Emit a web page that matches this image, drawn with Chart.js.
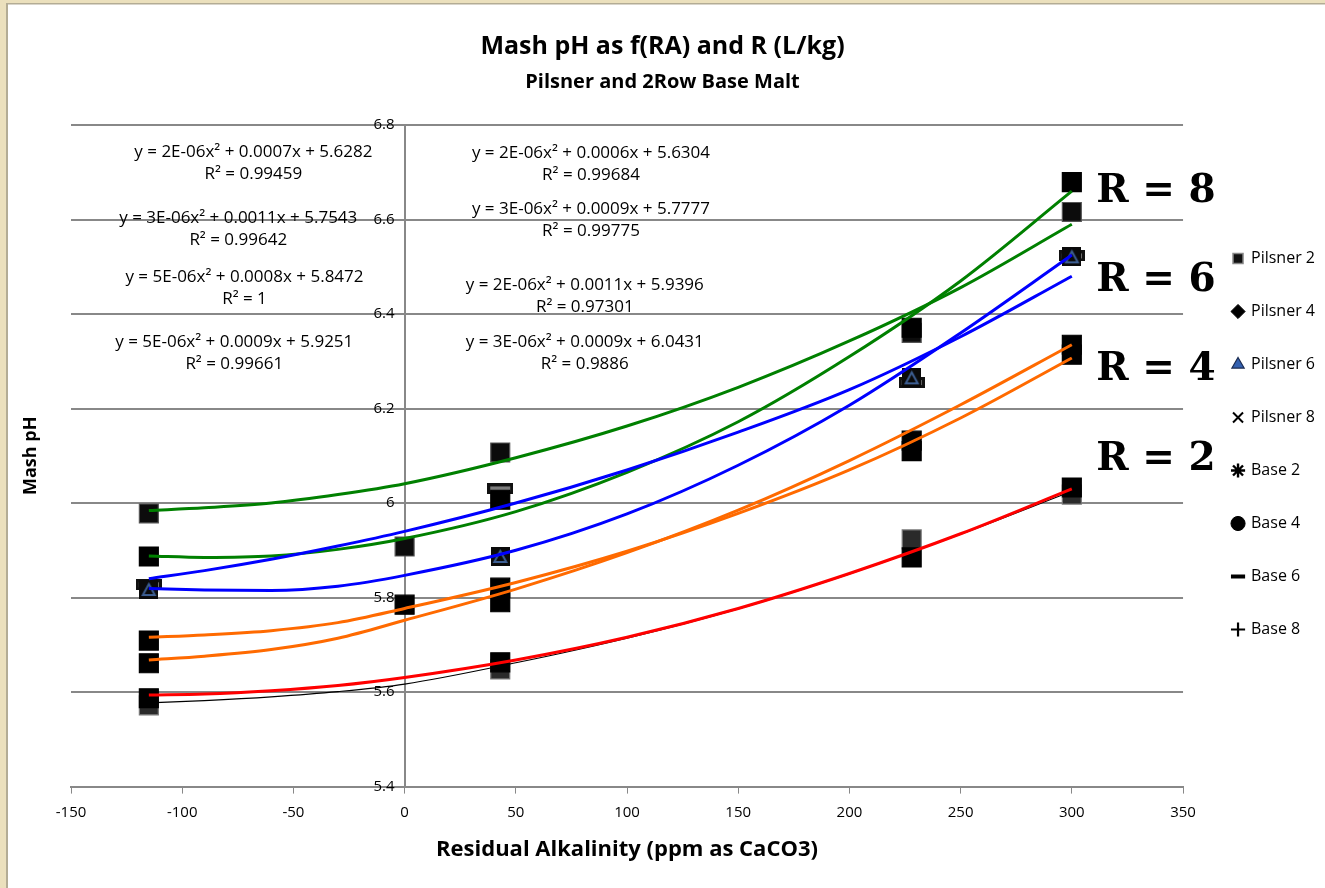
<!DOCTYPE html>
<html>
<head>
<meta charset="utf-8">
<script src="https://cdn.jsdelivr.net/npm/chart.js@4.4.1/dist/chart.umd.min.js"></script>
<style>
html,body{margin:0;padding:0;background:#fff;}
#wrap{width:1325px;height:888px;position:relative;}
canvas{display:block;}
</style>
</head>
<body>
<div id="wrap"><canvas id="c" width="1325" height="888"></canvas></div>
<script>
// ---------- data ----------
const raX = [-115, 0, 43, 228, 300];
const pilsner2 = [5.587, null, 5.663, 5.885, 6.033];
const pilsner4 = [5.709, null, 5.821, 6.132, 6.335];
const pilsner6 = [5.817, null, 5.887, 6.265, 6.521];
const pilsner8 = [5.887, null, 6.007, 6.371, 6.679];
const base2 = [5.572, null, 5.648, 5.923, 6.018];
const base4 = [5.661, 5.785, 5.790, 6.110, 6.314];
const base6 = [5.827, null, 6.030, 6.255, 6.523];
const base8 = [5.978, 5.908, 6.107, 6.360, 6.616];

const trendX = [-115, -90, -60, -30, 0, 50, 100, 150, 200, 250, 300];
const trendRed = [5.594, 5.596, 5.603, 5.614, 5.631, 5.668, 5.716, 5.777, 5.851, 5.935, 6.030];
const trendBlack = [5.577, 5.582, 5.590, 5.601, 5.617, 5.662, 5.714, 5.776, 5.850, 5.934, 6.025];
const trendOrangeA = [5.716, 5.721, 5.730, 5.747, 5.777, 5.832, 5.898, 5.978, 6.070, 6.180, 6.307];
const trendOrangeB = [5.668, 5.676, 5.690, 5.714, 5.752, 5.818, 5.895, 5.985, 6.090, 6.208, 6.335];
const trendBlueA = [5.819, 5.816, 5.815, 5.824, 5.847, 5.900, 5.977, 6.080, 6.207, 6.360, 6.525];
const trendBlueB = [5.840, 5.857, 5.881, 5.909, 5.940, 6.000, 6.070, 6.150, 6.240, 6.352, 6.480];
const trendGreenA = [5.888, 5.885, 5.888, 5.902, 5.925, 5.982, 6.065, 6.172, 6.310, 6.470, 6.660];
const trendGreenB = [5.984, 5.990, 6.000, 6.018, 6.041, 6.096, 6.163, 6.245, 6.343, 6.456, 6.590];

const seriesNames = ['Pilsner 2', 'Pilsner 4', 'Pilsner 6', 'Pilsner 8', 'Base 2', 'Base 4', 'Base 6', 'Base 8'];
const yTickLabels = ['5.4', '5.6', '5.8', '6', '6.2', '6.4', '6.6', '6.8'];
const xTickLabels = ['-150', '-100', '-50', '0', '50', '100', '150', '200', '250', '300', '350'];

const eqLeft = [
  ['y = 2E-06x² + 0.0007x + 5.6282', 'R² = 0.99459'],
  ['y = 3E-06x² + 0.0011x + 5.7543', 'R² = 0.99642'],
  ['y = 5E-06x² + 0.0008x + 5.8472', 'R² = 1'],
  ['y = 5E-06x² + 0.0009x + 5.9251', 'R² = 0.99661']
];
const eqRight = [
  ['y = 2E-06x² + 0.0006x + 5.6304', 'R² = 0.99684'],
  ['y = 3E-06x² + 0.0009x + 5.7777', 'R² = 0.99775'],
  ['y = 2E-06x² + 0.0011x + 5.9396', 'R² = 0.97301'],
  ['y = 3E-06x² + 0.0009x + 6.0431', 'R² = 0.9886']
];
const rLabels = ['R = 8', 'R = 6', 'R = 4', 'R = 2'];

// ---------- layout (annotation anchors in data units) ----------
const eqLeftPos = [[-68, 6.743], [-74.8, 6.602], [-72, 6.477], [-76.6, 6.341]];
const eqRightPos = [[83.8, 6.741], [83.8, 6.621], [81, 6.462], [81, 6.341]];
const rLabelPos = [[311, 6.658], [311, 6.470], [311, 6.282], [311, 6.092]];

function pts(xs, ys) {
  const out = [];
  xs.forEach((xv, i) => { if (ys[i] !== null) out.push({x: xv, y: ys[i]}); });
  return out;
}

function dashMarker() {
  const c = document.createElement('canvas'); c.width = 26; c.height = 11;
  const g = c.getContext('2d');
  g.fillStyle = '#111'; g.fillRect(0, 0, 26, 11);
  g.fillStyle = '#7c7c7c'; g.fillRect(3, 3, 20, 5);
  return c;
}
function triSquareMarker() {
  const c = document.createElement('canvas'); c.width = 19; c.height = 19;
  const g = c.getContext('2d');
  g.fillStyle = '#0a0a0a'; g.fillRect(0, 0, 19, 19);
  g.strokeStyle = '#3d5f93'; g.lineWidth = 2;
  g.beginPath(); g.moveTo(9.5, 4); g.lineTo(15.5, 15); g.lineTo(3.5, 15); g.closePath(); g.stroke();
  return c;
}

const markerSets = [
  {data: pilsner2, style: 'rect', bg: '#000', bd: '#000'},
  {data: pilsner4, style: 'rect', bg: '#000', bd: '#000'},
  {data: pilsner6, style: triSquareMarker(), bg: '#000', bd: '#000'},
  {data: pilsner8, style: 'rect', bg: '#000', bd: '#000'},
  {data: base2, style: 'rect', bg: '#2a2a2a', bd: '#777'},
  {data: base4, style: 'rect', bg: '#000', bd: '#000'},
  {data: base6, style: dashMarker(), bg: '#000', bd: '#000'},
  {data: base8, style: 'rect', bg: '#0c0c0c', bd: '#555'}
];

const trendSets = [
  {data: trendRed, color: '#ff0000', w: 3},
  {data: trendBlack, color: '#000000', w: 1.2},
  {data: trendOrangeA, color: '#ff6a00', w: 3},
  {data: trendOrangeB, color: '#ff6a00', w: 3},
  {data: trendBlueA, color: '#0000ff', w: 3},
  {data: trendBlueB, color: '#0000ff', w: 3},
  {data: trendGreenA, color: '#008000', w: 3},
  {data: trendGreenB, color: '#008000', w: 3}
];

const legendStyles = [
  {ps: 'rect', fill: '#111', stroke: '#888', lw: 1.5},
  {ps: 'rectRot', fill: '#000', stroke: '#000', lw: 1},
  {ps: 'triangle', fill: '#3461b0', stroke: '#1a2a50', lw: 1.2},
  {ps: 'crossRot', fill: '#000', stroke: '#000', lw: 2},
  {ps: 'star', fill: '#000', stroke: '#000', lw: 2.4},
  {ps: 'circle', fill: '#000', stroke: '#000', lw: 1},
  {ps: 'line', fill: '#000', stroke: '#000', lw: 4},
  {ps: 'cross', fill: '#000', stroke: '#000', lw: 2.2}
];

const datasets = [];
markerSets.forEach((m, i) => {
  datasets.push({
    label: seriesNames[i],
    data: pts(raX, m.data),
    showLine: false,
    pointStyle: m.style,
    pointRadius: 13.4,
    pointHoverRadius: 13.4,
    backgroundColor: m.bg,
    borderColor: m.bd,
    borderWidth: 1.2,
    order: 2
  });
});
trendSets.forEach((t, i) => {
  datasets.push({
    label: 'trend' + i,
    data: pts(trendX, t.data),
    showLine: true,
    borderColor: t.color,
    borderWidth: t.w,
    pointRadius: 0,
    cubicInterpolationMode: 'monotone',
    fill: false,
    order: 1
  });
});

const extras = {
  id: 'extras',
  beforeDraw(chart) {
    const {ctx, width, height} = chart;
    ctx.save();
    ctx.fillStyle = '#ffffff'; ctx.fillRect(0, 0, width, height);
    ctx.fillStyle = '#ebe0bd'; ctx.fillRect(0, 0, 7, height); ctx.fillRect(0, 0, width, 3);
    ctx.fillStyle = '#b3ac95'; ctx.fillRect(6, 3, 2, height - 3); ctx.fillRect(6, 3, width - 6, 1.5);
    ctx.restore();
  },
  afterDraw(chart) {
    const {ctx} = chart;
    const x = chart.scales.x, y = chart.scales.y;
    ctx.save();
    ctx.fillStyle = '#000';
    ctx.font = '17px "Open Sans"';
    ctx.textAlign = 'center';
    ctx.textBaseline = 'middle';
    const drawEq = (arr, pos) => arr.forEach((lines, i) => {
      const px = x.getPixelForValue(pos[i][0]);
      const py = y.getPixelForValue(pos[i][1]);
      ctx.fillText(lines[0], px, py);
      ctx.fillText(lines[1], px, py + 22);
    });
    drawEq(eqLeft, eqLeftPos);
    drawEq(eqRight, eqRightPos);
    ctx.font = 'bold 39px "DejaVu Serif"';
    ctx.textAlign = 'left';
    rLabels.forEach((t, i) => {
      ctx.fillText(t, x.getPixelForValue(rLabelPos[i][0]), y.getPixelForValue(rLabelPos[i][1]));
    });
    ctx.restore();
  }
};

new Chart(document.getElementById('c'), {
  type: 'scatter',
  data: {datasets},
  plugins: [extras],
  options: {
    responsive: false,
    animation: false,
    devicePixelRatio: 1,
    layout: {padding: {left: 0, right: 0, top: 0, bottom: 0}},
    plugins: {
      title: {
        display: true, text: 'Mash pH as f(RA) and R (L/kg)', color: '#000',
        font: {family: 'Open Sans', size: 25, weight: 'bold'}, padding: {top: 32, bottom: 8}
      },
      subtitle: {
        display: true, text: 'Pilsner and 2Row Base Malt', color: '#000',
        font: {family: 'Open Sans', size: 20, weight: 'bold'}, padding: {top: 0, bottom: 31}
      },
      legend: {
        display: true, position: 'right', align: 'center',
        labels: {
          usePointStyle: true, boxWidth: 10, boxHeight: 10, padding: 37, color: '#000',
          font: {family: 'Open Sans', size: 16},
          generateLabels() {
            return seriesNames.map((n, i) => ({
              text: n, pointStyle: legendStyles[i].ps, fillStyle: legendStyles[i].fill,
              strokeStyle: legendStyles[i].stroke, lineWidth: legendStyles[i].lw,
              hidden: false, datasetIndex: i, fontColor: '#000'
            }));
          }
        }
      },
      tooltip: {enabled: false}
    },
    scales: {
      x: {
        type: 'linear', min: -150, max: 350, position: 'bottom',
        ticks: {stepSize: 50, color: '#000', font: {family: 'Open Sans', size: 15}, padding: 10,
          callback: (v, i) => xTickLabels[i]},
        grid: {drawOnChartArea: false, drawTicks: true, tickLength: 7, color: '#888', lineWidth: 1},
        border: {display: true, color: '#888', width: 2},
        title: {display: true, text: 'Residual Alkalinity (ppm as CaCO3)', color: '#000',
          font: {family: 'Open Sans', size: 22, weight: 'bold'}, padding: {top: 5, bottom: 25}}
      },
      y: {
        type: 'linear', min: 5.4, max: 6.8, position: {x: 0},
        ticks: {stepSize: 0.2, color: '#000', font: {family: 'Open Sans', size: 15}, padding: 10,
          callback: (v, i) => yTickLabels[i] + '\u2002\u2009'},
        grid: {color: '#888', lineWidth: 2, drawTicks: true, tickLength: 7},
        border: {display: true, color: '#888', width: 2}
      },
      yL: {
        type: 'linear', position: 'left', display: true,
        ticks: {display: false}, grid: {display: false}, border: {display: false},
        title: {display: true, text: 'Mash pH', color: '#000',
          font: {family: 'Open Sans', size: 18, weight: 'bold'}, padding: {top: 20, bottom: 0}},
        afterFit(s) { s.width = 71; }
      },
      yR: {
        type: 'linear', position: 'right', display: true,
        ticks: {display: false}, grid: {display: false}, border: {display: false},
        afterFit(s) { s.width = 13; }
      }
    }
  }
});
</script>
</body>
</html>
